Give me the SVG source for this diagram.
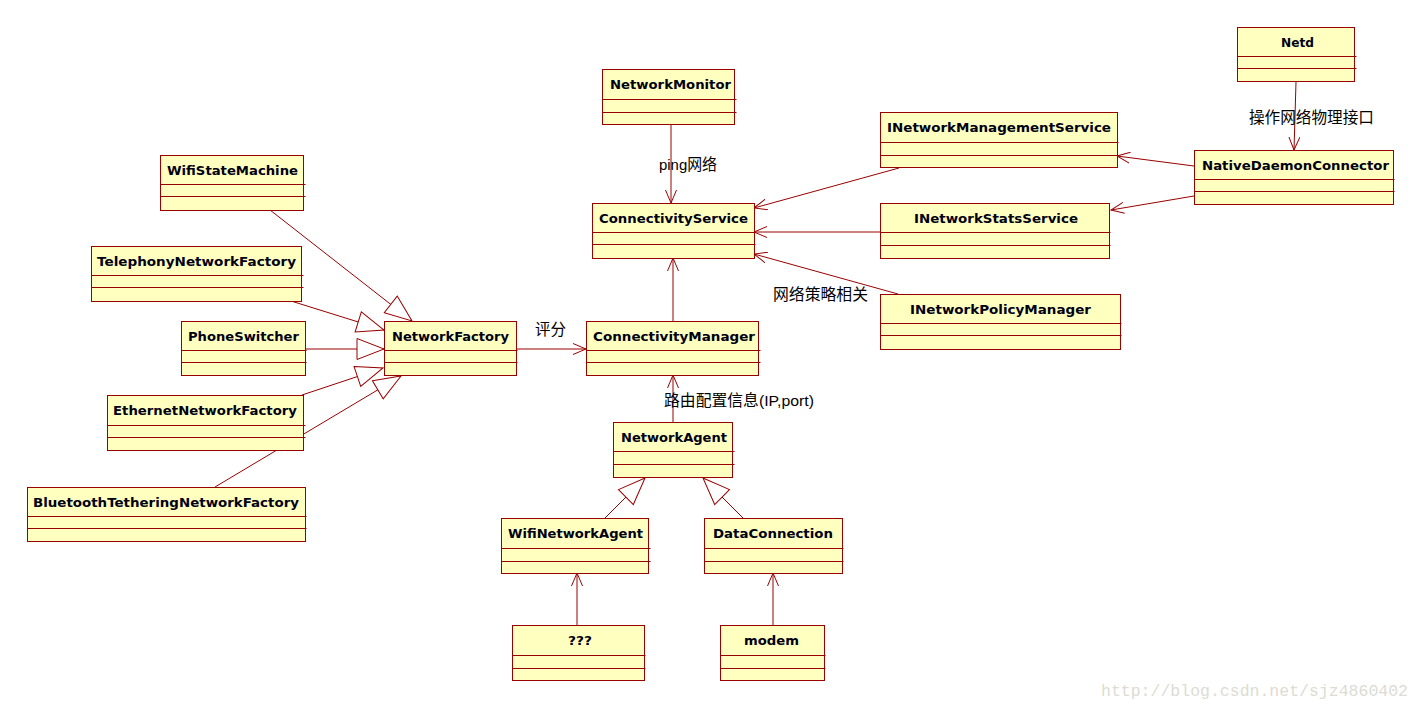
<svg xmlns="http://www.w3.org/2000/svg" width="1422" height="709" viewBox="0 0 1422 709">
<style>
.box{fill:#ffffc0;stroke:#990000;stroke-width:1}
.div{stroke:#990000;stroke-width:1}
.t{font-family:"DejaVu Sans",Verdana,sans-serif;font-weight:bold;font-size:13px;fill:#000010}
.lbl{font-family:"Liberation Sans","Noto Sans CJK SC",sans-serif;font-size:15.5px;fill:#000}
.c{stroke:#990000;stroke-width:1;fill:none}
.wm{font-family:"Liberation Mono",monospace;font-size:16.5px;fill:#dcdcd4}
</style>
<defs>
<marker id="open" markerUnits="userSpaceOnUse" viewBox="0 0 14 12" refX="13" refY="6" markerWidth="14" markerHeight="12" orient="auto">
<path d="M0,0.5 L13,6 L0,11.5" fill="none" stroke="#990000" stroke-width="1"/>
</marker>
<marker id="gen" markerUnits="userSpaceOnUse" viewBox="0 0 29 23" refX="28" refY="11.5" markerWidth="29" markerHeight="23" orient="auto">
<path d="M1,1 L28,11.5 L1,22 Z" fill="#ffffff" stroke="#990000" stroke-width="1"/>
</marker>
</defs>
<rect width="1422" height="709" fill="#ffffff"/>

<g id="connectors">
<path class="c" d="M270,210 L412,321" marker-end="url(#gen)"/>
<path class="c" d="M291,301 L384,330" marker-end="url(#gen)"/>
<path class="c" d="M305,349 L384,349" marker-end="url(#gen)"/>
<path class="c" d="M302,395 L383,368" marker-end="url(#gen)"/>
<path class="c" d="M215,487 L401,376" marker-end="url(#gen)"/>
<path class="c" d="M605,518 L645,478" marker-end="url(#gen)"/>
<path class="c" d="M743,518 L703,478" marker-end="url(#gen)"/>
<path class="c" d="M516,349 L586,349" marker-end="url(#open)"/>
<path class="c" d="M671,124 L671,203" marker-end="url(#open)"/>
<path class="c" d="M673,321 L673,258" marker-end="url(#open)"/>
<path class="c" d="M899,168 L754,208" marker-end="url(#open)"/>
<path class="c" d="M880,232 L754,232" marker-end="url(#open)"/>
<path class="c" d="M898,294 L754,254" marker-end="url(#open)"/>
<path class="c" d="M1194,166 L1117,156" marker-end="url(#open)"/>
<path class="c" d="M1194,196 L1111,210" marker-end="url(#open)"/>
<path class="c" d="M1296,82 L1294,150" marker-end="url(#open)"/>
<path class="c" d="M673,422 L673,375" marker-end="url(#open)"/>
<path class="c" d="M577,625 L577,573" marker-end="url(#open)"/>
<path class="c" d="M773,625 L773,573" marker-end="url(#open)"/>
<text class="lbl" x="659" y="170" textLength="58" lengthAdjust="spacingAndGlyphs">ping网络</text>
<text class="lbl" x="535" y="335" textLength="31" lengthAdjust="spacingAndGlyphs">评分</text>
<text class="lbl" x="664" y="406" textLength="150" lengthAdjust="spacingAndGlyphs">路由配置信息(IP,port)</text>
<text class="lbl" x="1249" y="123" textLength="125" lengthAdjust="spacingAndGlyphs">操作网络物理接口</text>
<text class="lbl" x="773" y="300" textLength="95" lengthAdjust="spacingAndGlyphs">网络策略相关</text>
</g>

<g id="WifiStateMachine">
<rect class="box" x="160.5" y="155.5" width="143" height="55"/>
<path class="div" d="M160.5,184.5 H305.5 M160.5,196.5 H305.5"/>
<text class="t" x="167" y="174.5" textLength="131" lengthAdjust="spacingAndGlyphs">WifiStateMachine</text>
</g>
<g id="TelephonyNetworkFactory">
<rect class="box" x="91.5" y="246.5" width="210" height="55"/>
<path class="div" d="M91.5,275.5 H303.5 M91.5,287.5 H303.5"/>
<text class="t" x="97" y="265.5" textLength="199" lengthAdjust="spacingAndGlyphs">TelephonyNetworkFactory</text>
</g>
<g id="PhoneSwitcher">
<rect class="box" x="181.5" y="321.5" width="124" height="54"/>
<path class="div" d="M181.5,350.5 H306.5 M181.5,362.5 H306.5"/>
<text class="t" x="188" y="340.5" textLength="111" lengthAdjust="spacingAndGlyphs">PhoneSwitcher</text>
</g>
<g id="EthernetNetworkFactory">
<rect class="box" x="107.5" y="395.5" width="196" height="55"/>
<path class="div" d="M107.5,425.5 H305.5 M107.5,437.5 H305.5"/>
<text class="t" x="113" y="414.5" textLength="184" lengthAdjust="spacingAndGlyphs">EthernetNetworkFactory</text>
</g>
<g id="BluetoothTetheringNetworkFactory">
<rect class="box" x="27.5" y="487.5" width="278" height="54"/>
<path class="div" d="M27.5,516.5 H306.5 M27.5,528.5 H306.5"/>
<text class="t" x="33" y="506.5" textLength="266" lengthAdjust="spacingAndGlyphs">BluetoothTetheringNetworkFactory</text>
</g>
<g id="NetworkFactory">
<rect class="box" x="384.5" y="321.5" width="132" height="54"/>
<path class="div" d="M384.5,350.5 H517.5 M384.5,362.5 H517.5"/>
<text class="t" x="392" y="340.5" textLength="117" lengthAdjust="spacingAndGlyphs">NetworkFactory</text>
</g>
<g id="NetworkMonitor">
<rect class="box" x="602.5" y="69.5" width="132" height="55"/>
<path class="div" d="M602.5,99.5 H736.5 M602.5,112.5 H736.5"/>
<text class="t" x="610" y="88.5" textLength="121" lengthAdjust="spacingAndGlyphs">NetworkMonitor</text>
</g>
<g id="ConnectivityService">
<rect class="box" x="592.5" y="203.5" width="162" height="55"/>
<path class="div" d="M592.5,232.5 H755.5 M592.5,244.5 H755.5"/>
<text class="t" x="599" y="222.5" textLength="149" lengthAdjust="spacingAndGlyphs">ConnectivityService</text>
</g>
<g id="ConnectivityManager">
<rect class="box" x="586.5" y="321.5" width="172" height="54"/>
<path class="div" d="M586.5,350.5 H760.5 M586.5,362.5 H760.5"/>
<text class="t" x="593" y="340.5" textLength="162" lengthAdjust="spacingAndGlyphs">ConnectivityManager</text>
</g>
<g id="NetworkAgent">
<rect class="box" x="613.5" y="422.5" width="119" height="55"/>
<path class="div" d="M613.5,451.5 H734.5 M613.5,464.5 H734.5"/>
<text class="t" x="621" y="441.5" textLength="106" lengthAdjust="spacingAndGlyphs">NetworkAgent</text>
</g>
<g id="WifiNetworkAgent">
<rect class="box" x="501.5" y="518.5" width="147" height="55"/>
<path class="div" d="M501.5,548.5 H650.5 M501.5,561.5 H650.5"/>
<text class="t" x="508" y="537.5" textLength="135" lengthAdjust="spacingAndGlyphs">WifiNetworkAgent</text>
</g>
<g id="DataConnection">
<rect class="box" x="704.5" y="518.5" width="138" height="55"/>
<path class="div" d="M704.5,548.5 H843.5 M704.5,561.5 H843.5"/>
<text class="t" x="713" y="537.5" textLength="120" lengthAdjust="spacingAndGlyphs">DataConnection</text>
</g>
<g id="Unknown">
<rect class="box" x="512.5" y="625.5" width="132" height="55"/>
<path class="div" d="M512.5,655.5 H645.5 M512.5,668.5 H645.5"/>
<text class="t" x="568" y="644.5" textLength="24" lengthAdjust="spacingAndGlyphs">???</text>
</g>
<g id="modem">
<rect class="box" x="720.5" y="625.5" width="104" height="55"/>
<path class="div" d="M720.5,655.5 H825.5 M720.5,668.5 H825.5"/>
<text class="t" x="744" y="644.5" textLength="55" lengthAdjust="spacingAndGlyphs">modem</text>
</g>
<g id="INetworkManagementService">
<rect class="box" x="880.5" y="112.5" width="237" height="55"/>
<path class="div" d="M880.5,142.5 H1118.5 M880.5,155.5 H1118.5"/>
<text class="t" x="887" y="131.5" textLength="224" lengthAdjust="spacingAndGlyphs">INetworkManagementService</text>
</g>
<g id="INetworkStatsService">
<rect class="box" x="880.5" y="203.5" width="229" height="55"/>
<path class="div" d="M880.5,232.5 H1110.5 M880.5,245.5 H1110.5"/>
<text class="t" x="914" y="222.5" textLength="164" lengthAdjust="spacingAndGlyphs">INetworkStatsService</text>
</g>
<g id="INetworkPolicyManager">
<rect class="box" x="880.5" y="294.5" width="240" height="55"/>
<path class="div" d="M880.5,323.5 H1121.5 M880.5,335.5 H1121.5"/>
<text class="t" x="910" y="313.5" textLength="181" lengthAdjust="spacingAndGlyphs">INetworkPolicyManager</text>
</g>
<g id="NativeDaemonConnector">
<rect class="box" x="1194.5" y="150.5" width="199" height="54"/>
<path class="div" d="M1194.5,179.5 H1394.5 M1194.5,191.5 H1394.5"/>
<text class="t" x="1202" y="169.5" textLength="187" lengthAdjust="spacingAndGlyphs">NativeDaemonConnector</text>
</g>
<g id="Netd">
<rect class="box" x="1237.5" y="27.5" width="117" height="54"/>
<path class="div" d="M1237.5,56.5 H1356.5 M1237.5,68.5 H1356.5"/>
<text class="t" x="1281" y="46.5" textLength="33" lengthAdjust="spacingAndGlyphs">Netd</text>
</g>

<text class="wm" x="1101" y="696" textLength="307" lengthAdjust="spacingAndGlyphs">http://blog.csdn.net/sjz4860402</text>
</svg>
